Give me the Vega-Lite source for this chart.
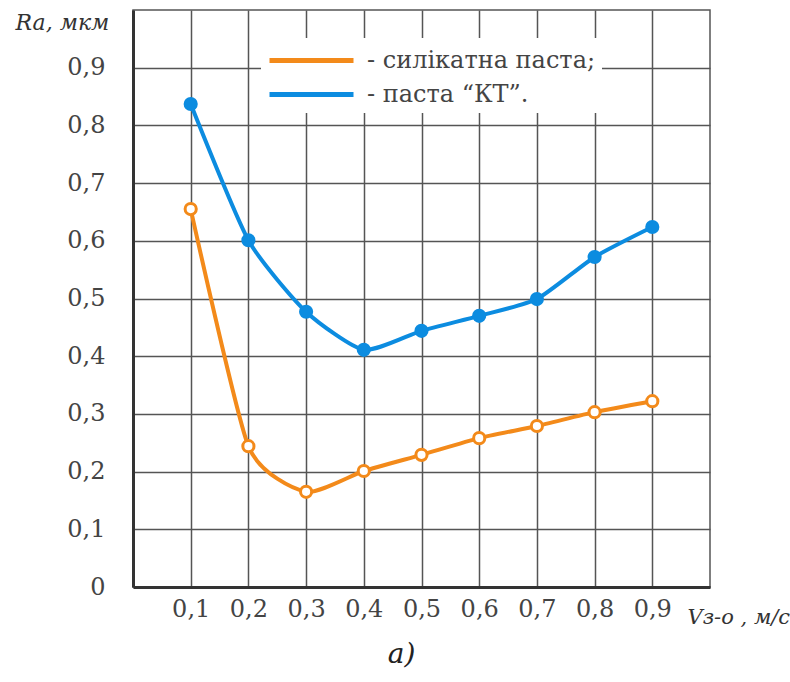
{
  "$schema": "https://vega.github.io/schema/vega-lite/v6.json",
  "autosize": "none",
  "width": 577,
  "height": 577,
  "padding": {"left": 133, "top": 10, "right": 80, "bottom": 95},
  "background": "white",
  "title": {"text": "а)", "orient": "bottom", "anchor": "middle", "dx": -20, "offset": 14, "font": "DejaVu Serif", "fontStyle": "italic", "fontWeight": "normal", "fontSize": 28, "color": "#222"},
  "data": {"values": [
    {"series": "силікатна паста", "v": 0.1, "ra": 0.655},
    {"series": "силікатна паста", "v": 0.2, "ra": 0.244},
    {"series": "силікатна паста", "v": 0.3, "ra": 0.165},
    {"series": "силікатна паста", "v": 0.4, "ra": 0.201},
    {"series": "силікатна паста", "v": 0.5, "ra": 0.229},
    {"series": "силікатна паста", "v": 0.6, "ra": 0.258},
    {"series": "силікатна паста", "v": 0.7, "ra": 0.279},
    {"series": "силікатна паста", "v": 0.8, "ra": 0.303},
    {"series": "силікатна паста", "v": 0.9, "ra": 0.322},
    {"series": "паста “КТ”", "v": 0.1, "ra": 0.837},
    {"series": "паста “КТ”", "v": 0.2, "ra": 0.601},
    {"series": "паста “КТ”", "v": 0.3, "ra": 0.477},
    {"series": "паста “КТ”", "v": 0.4, "ra": 0.411},
    {"series": "паста “КТ”", "v": 0.5, "ra": 0.444},
    {"series": "паста “КТ”", "v": 0.6, "ra": 0.47},
    {"series": "паста “КТ”", "v": 0.7, "ra": 0.499},
    {"series": "паста “КТ”", "v": 0.8, "ra": 0.572},
    {"series": "паста “КТ”", "v": 0.9, "ra": 0.624}
  ]},
  "encoding": {
    "x": {"field": "v", "type": "quantitative",
      "scale": {"domain": [0, 1], "nice": false, "zero": false},
      "axis": {"values": [0.1, 0.2, 0.3, 0.4, 0.5, 0.6, 0.7, 0.8, 0.9],
        "labelExpr": "replace(format(datum.value, '.1f'), '.', ',')",
        "title": "Vз-о , м/с", "titleX": 554, "titleY": 36, "titleAlign": "left", "titleBaseline": "alphabetic",
        "titleFont": "DejaVu Serif", "titleFontStyle": "italic", "titleFontWeight": "normal", "titleFontSize": 21, "titleColor": "#333"}},
    "y": {"field": "ra", "type": "quantitative",
      "scale": {"domain": [0, 1], "nice": false},
      "axis": {"values": [0, 0.1, 0.2, 0.3, 0.4, 0.5, 0.6, 0.7, 0.8, 0.9],
        "labelExpr": "datum.value == 0 ? '0' : replace(format(datum.value, '.1f'), '.', ',')",
        "title": "Ra, мкм", "titleAngle": 0, "titleX": -118, "titleY": 12, "titleAlign": "left", "titleBaseline": "middle",
        "titleFont": "DejaVu Serif", "titleFontStyle": "italic", "titleFontWeight": "normal", "titleFontSize": 22, "titleColor": "#333"}},
    "color": {"field": "series", "type": "nominal",
      "scale": {"domain": ["силікатна паста", "паста “КТ”"], "range": ["#f38a1a", "#0c8ce0"]}}
  },
  "layer": [
    {"mark": {"type": "line", "interpolate": "cardinal", "tension": 0.4, "strokeWidth": 4},
     "encoding": {"color": {"field": "series", "type": "nominal",
       "scale": {"domain": ["силікатна паста", "паста “КТ”"], "range": ["#f38a1a", "#0c8ce0"]},
       "legend": {"title": null, "orient": "none", "legendX": 128, "legendY": 28,
         "symbolType": "M-1,0H5", "symbolSize": 784, "symbolStrokeWidth": 5, "symbolOpacity": 1,
         "labelExpr": "datum.label == 'силікатна паста' ? '- силікатна паста;\u00a0\u00a0' : '- паста “КТ”.'",
         "labelFont": "DejaVu Serif", "labelFontSize": 24, "labelColor": "#444", "labelOffset": 67,
         "fillColor": "white", "padding": 6, "rowPadding": 5, "labelLimit": 500}}}},
    {"mark": {"type": "point", "shape": "circle", "filled": true, "size": 200, "opacity": 1},
     "encoding": {"color": {"field": "series", "type": "nominal", "legend": null}},
     "transform": [{"filter": "datum.series == 'паста “КТ”'"}]},
    {"mark": {"type": "point", "shape": "circle", "filled": true, "fill": "white", "size": 125, "strokeWidth": 3, "opacity": 1},
     "encoding": {"stroke": {"field": "series", "type": "nominal", "legend": null,
       "scale": {"domain": ["силікатна паста", "паста “КТ”"], "range": ["#f38a1a", "#0c8ce0"]}}},
     "transform": [{"filter": "datum.series == 'силікатна паста'"}]}
  ],
  "config": {
    "view": {"stroke": "#555", "strokeWidth": 1.5},
    "axis": {"grid": true, "gridColor": "#555", "gridOpacity": 1, "gridWidth": 1.5,
      "domainColor": "#333", "domainWidth": 3, "ticks": false,
      "labelFont": "DejaVu Serif", "labelFontSize": 24, "labelColor": "#444"},
    "axisY": {"labelPadding": 28},
    "axisX": {"labelPadding": 10}
  }
}
